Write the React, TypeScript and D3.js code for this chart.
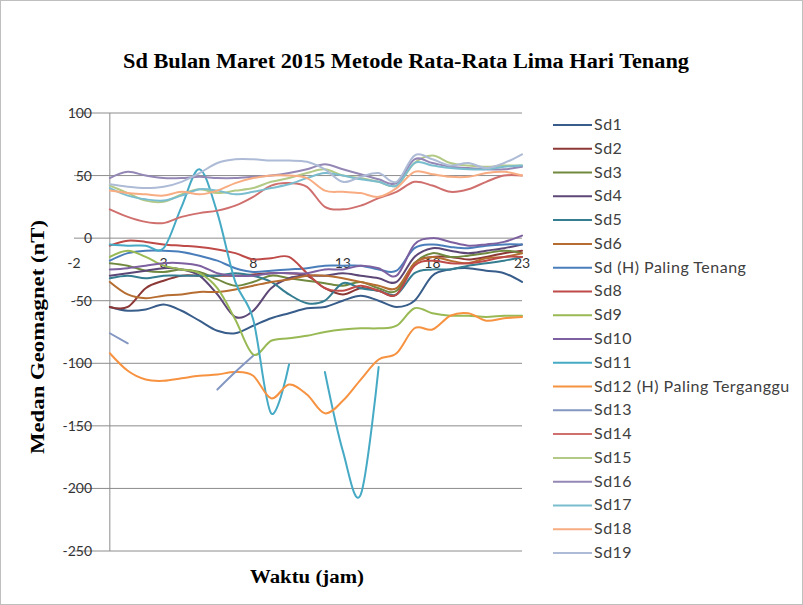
import React from 'react';
import * as d3 from 'd3';

const hours = d3.range(0, 24);

const seriesNames = [
  'Sd1', 'Sd2', 'Sd3', 'Sd4', 'Sd5', 'Sd6', 'Sd (H) Paling Tenang', 'Sd8', 'Sd9', 'Sd10',
  'Sd11', 'Sd12 (H) Paling Terganggu', 'Sd13', 'Sd14', 'Sd15', 'Sd16', 'Sd17', 'Sd18', 'Sd19',
];

const seriesColors = [
  '#385D8A', '#8C3836', '#71893F', '#5C4776', '#357D91', '#B66D31',
  '#4A7EBB', '#BE4B48', '#98B954', '#7D60A0', '#46AAC5', '#F69240',
  '#8497C2', '#D0706E', '#B3C986', '#9487B5', '#79BDCF', '#F8AC82', '#AEBBD6',
];

const N = null;
const sd1 = [-55, -58, -57, -53, -58, -66, -74, -76, -70, -64, -60, -56, -55, -50, -46, -50, -55, -50, -30, -25, -24, -26, -28, -35];
const sd2 = [-55, -55, -40, -34, -30, -30, -30, -30, -29, -28, -28, -30, -40, -45, -40, -42, -45, -20, -15, -15, -17, -15, -12, -10];
const sd3 = [-20, -22, -26, -27, -25, -27, -33, -38, -35, -30, -32, -34, -36, -38, -35, -40, -42, -20, -12, -15, -14, -12, -10, -12];
const sd4 = [-30, -28, -26, -24, -25, -30, -45, -63, -58, -40, -32, -30, -30, -28, -30, -32, -35, -15, -8, -10, -12, -10, -8, -5];
const sd5 = [-32, -30, -32, -30, -30, -30, -30, -28, -30, -35, -45, -52, -50, -36, -40, -42, -45, -28, -25, -25, -22, -20, -18, -15];
const sd6 = [-35, -45, -48, -46, -45, -43, -43, -41, -38, -35, -33, -30, -30, -32, -35, -38, -40, -20, -15, -18, -20, -16, -15, -12];
const sd7 = [-18, -12, -10, -10, -11, -14, -18, -24, -27, -26, -25, -24, -22, -22, -22, -25, -26, -8, -5, -7, -8, -6, -5, -5];
const sd8 = [-6, -2, -3, -5, -6, -7, -9, -12, -17, -16, -15, -28, -40, -42, -38, -42, -45, -22, -18, -20, -20, -18, -15, -15];
const sd9 = [-15, -10, -15, -22, -25, -28, -40, -65, -93, -82, -80, -78, -75, -73, -72, -72, -70, -56, -60, -62, -62, -63, -62, -62];
const sd10 = [-25, -24, -22, -20, -20, -22, -28, -30, -30, -28, -28, -28, -25, -25, -22, -24, -30, -5, 0, -3, -6, -5, -3, 2];
const sd11 = [-5, -6, -6, -8, 25, 55, 20, -35, -65, -140, -101, N, -107, -170, -205, -103, N, N, N, N, N, N, N, N];
const sd12 = [-92, -106, -113, -114, -112, -110, -109, -107, -110, -128, -117, -125, -140, -130, -113, -97, -92, -72, -73, -62, -60, -66, -64, -63];
const sd13 = [-76, -84, N, N, N, N, -121, -107, -94, N, N, N, N, N, N, N, N, N, N, N, N, N, N, N];
const sd14 = [23, 17, 13, 12, 17, 20, 22, 26, 33, 42, 44, 41, 25, 23, 26, 32, 37, 45, 42, 37, 39, 45, 50, 50];
const sd15 = [42, 36, 30, 29, 35, 39, 36, 38, 40, 45, 48, 52, 55, 50, 48, 45, 42, 60, 66, 60, 58, 57, 58, 58];
const sd16 = [48, 53, 50, 48, 48, 49, 48, 48, 49, 50, 52, 55, 59, 55, 51, 47, 44, 63, 60, 57, 56, 55, 55, 57];
const sd17 = [40, 34, 31, 30, 34, 39, 38, 35, 37, 40, 43, 48, 52, 50, 47, 45, 42, 60, 58, 56, 55, 55, 57, 58];
const sd18 = [38, 36, 35, 34, 37, 35, 38, 44, 48, 50, 50, 48, 38, 37, 36, 33, 40, 53, 51, 49, 49, 52, 53, 50];
const sd19 = [43, 41, 40, 41, 45, 52, 60, 63, 63, 62, 62, 61, 55, 45, 49, 52, 45, 66, 63, 58, 60, 56, 60, 67];

const allSeries = [sd1, sd2, sd3, sd4, sd5, sd6, sd7, sd8, sd9, sd10, sd11, sd12, sd13, sd14, sd15, sd16, sd17, sd18, sd19];

const xTicks = [-2, 3, 8, 13, 18, 23];
const yTicks = [100, 50, 0, -50, -100, -150, -200, -250];

const W = 803;
const H = 605;

const App = () => {
  const x = d3.scaleLinear().domain([-2, 23]).range([74, 522]);
  const y = d3.scaleLinear().domain([-250, 100]).range([551, 113]);

  const line = d3.line<number | null>()
    .defined(d => d != null)
    .x((d, i) => x(hours[i]))
    .y(d => y(d as number))
    .curve(d3.curveCardinal);

  const legendY = d3.scalePoint<number>().domain(d3.range(seriesNames.length)).range([125, 553]);
  const tickFont = 'Lato, "Open Sans", sans-serif';
  const serif = '"Liberation Serif", "DejaVu Serif", serif';

  return (
    <svg width={W} height={H} style={{ position: 'absolute', left: 0, top: 0, background: '#fff' }}>
      <rect x={0.5} y={0.5} width={W - 1} height={H - 1} fill="#fff" stroke="#bfbfbf" />
      <text x={406} y={68} textAnchor="middle" fontFamily={serif} fontWeight="bold" fontSize={20}
        textLength={566} lengthAdjust="spacingAndGlyphs" fill="#000">
        Sd Bulan Maret 2015 Metode Rata-Rata Lima Hari Tenang
      </text>

      {/* gridlines */}
      <g>
        {yTicks.map(t => (
          <line key={t} x1={x(-2)} x2={x(23)} y1={y(t)} y2={y(t)} stroke="#8c8c8c" strokeWidth={1} />
        ))}
        <line x1={x(0)} x2={x(0)} y1={y(100)} y2={y(-250)} stroke="#8c8c8c" strokeWidth={1} />
      </g>

      <g fontFamily={tickFont} fontSize={14} fill="#333">
        {yTicks.map(t => (
          <text key={t} x={92} y={y(t) + 5} textAnchor="end">{t}</text>
        ))}
        {xTicks.map(t => (
          <text key={t} x={x(t)} y={268} textAnchor="middle">{t}</text>
        ))}
      </g>

      <g fill="none" strokeWidth={2} strokeLinejoin="round" strokeLinecap="round">
        {allSeries.map((s, i) => (
          <path key={i} d={line(s) || ''} stroke={seriesColors[i]} />
        ))}
      </g>

      <text transform={`translate(44, 337) rotate(-90)`} textAnchor="middle" fontFamily={serif} fontWeight="bold"
        fontSize={18} textLength={234} lengthAdjust="spacingAndGlyphs" fill="#000">
        Medan  Geomagnet  (nT)
      </text>
      <text x={307} y={583} textAnchor="middle" fontFamily={serif} fontWeight="bold" fontSize={18}
        textLength={114} lengthAdjust="spacingAndGlyphs" fill="#000">
        Waktu  (jam)
      </text>

      <g fontFamily={tickFont} fontSize={16} letterSpacing={0.5} fill="#404040">
        {seriesNames.map((n, i) => (
          <g key={n} transform={`translate(0, ${legendY(i)})`}>
            <line x1={553} x2={592} y1={0} y2={0} stroke={seriesColors[i]} strokeWidth={2} />
            <text x={594} y={5}>{n}</text>
          </g>
        ))}
      </g>
    </svg>
  );
};

export default App;
